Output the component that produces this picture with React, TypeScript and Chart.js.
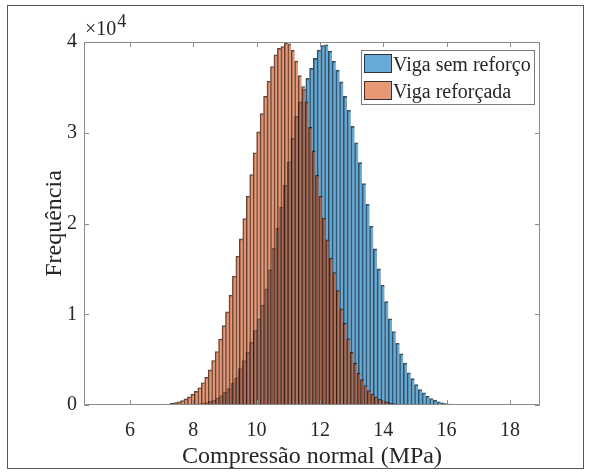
import React, { useEffect, useRef } from 'react';
import { Chart, registerables } from 'chart.js';

Chart.register(...registerables);

// ---------- data ----------
const X_MIN = 4.55;
const X_MAX = 18.95;
const X_TICKS = [6, 8, 10, 12, 14, 16, 18];
const Y_TICKS = [0, 10000, 20000, 30000, 40000];
const Y_MAX = 40000;
const Y_EXPONENT = '4';

const X_TITLE = 'Compressão normal (MPa)';
const Y_TITLE = 'Frequência';

const BLUE_LABEL = 'Viga sem reforço';
const BLUE_BIN_START = 7.884;
const BLUE_BIN_WIDTH = 0.1184;
const BLUE_COUNTS = [
  40, 70, 120, 180, 270, 400, 550, 780, 1050, 1400,
  1800, 2400, 3000, 4000, 4900, 5800, 6900, 8200, 9500, 11000,
  12800, 14900, 17300, 19500, 21800, 24200, 26800, 29400, 31800, 33400,
  34800, 36000, 37100, 38200, 39100, 39600,
  39700, 39000, 37900, 36900, 35600, 34000, 32500, 30700, 28900, 26700,
  24400, 22100, 19700, 17200, 15000, 13200, 11400, 9500, 8100, 6800,
  5650, 4600, 3550, 2900, 2250, 1700, 1330, 980, 720, 530,
  360, 250, 170, 110, 70, 40,
];

const ORANGE_LABEL = 'Viga reforçada';
const ORANGE_BIN_START = 7.05;
const ORANGE_BIN_WIDTH = 0.1093;
const ORANGE_COUNTS = [
  40, 100, 180, 280, 360, 500, 680, 900, 1170, 1500,
  1900, 2450, 3060, 3870, 4900, 5900, 7270, 8750, 10270, 12100,
  14200, 16400, 18300, 20550, 23000, 25400, 27800, 30100, 32100, 34000,
  35700, 37300, 38600, 39300, 39500, 39900, 39800, 39100, 37900, 36300,
  35100, 33400, 30600, 28000, 25300, 23000, 20600, 18200, 16200, 14600,
  12600, 10600, 9000, 7300, 5800, 4600, 3500, 2800, 2150, 1600,
  1200, 900, 650, 480, 350, 250, 170, 110, 70, 40,
];

// ---------- styles ----------
const FONT = '"Liberation Serif", "Times New Roman", serif';
const TEXT_COLOR = '#262626';
const AXIS_COLOR = '#8a8a8a';
const BLUE_FILL = 'rgba(0,114,189,0.6)';
const ORANGE_FILL = 'rgba(217,83,25,0.6)';
const EDGE = 'rgba(15,15,15,0.75)';

function toPoints(start: number, width: number, counts: number[]) {
  return counts.map((c, i) => ({ x: start + (i + 0.5) * width, y: c }));
}

const decorPlugin = {
  id: 'matlabDecor',
  afterDraw(chart: any) {
    const { ctx, chartArea } = chart;
    const xs = chart.scales.x;
    const ys = chart.scales.y;
    const L = Math.round(chartArea.left) + 0.5;
    const R = Math.round(chartArea.right) - 0.5;
    const T = Math.round(chartArea.top) + 0.5;
    const B = Math.round(chartArea.bottom) - 0.5;
    const tick = 4.5;
    ctx.save();
    ctx.strokeStyle = AXIS_COLOR;
    ctx.lineWidth = 1;
    ctx.strokeRect(L, T, R - L, B - T);
    ctx.beginPath();
    X_TICKS.forEach((v) => {
      const px = Math.round(xs.getPixelForValue(v)) + 0.5;
      ctx.moveTo(px, B);
      ctx.lineTo(px, B - tick);
      ctx.moveTo(px, T);
      ctx.lineTo(px, T + tick);
    });
    Y_TICKS.forEach((v) => {
      const py = Math.round(ys.getPixelForValue(v)) + 0.5;
      ctx.moveTo(L, py);
      ctx.lineTo(L + tick, py);
      ctx.moveTo(R, py);
      ctx.lineTo(R - tick, py);
    });
    ctx.stroke();

    // exponent label
    ctx.fillStyle = TEXT_COLOR;
    ctx.textBaseline = 'alphabetic';
    ctx.textAlign = 'left';
    ctx.font = `20px ${FONT}`;
    const base = '\u00d710';
    ctx.fillText(base, chartArea.left + 1, 35);
    const w = ctx.measureText(base).width;
    ctx.font = `18px ${FONT}`;
    ctx.fillText(Y_EXPONENT, chartArea.left + 1 + w + 1, 27);

    // legend
    const lx = 361.5, ly = 50.5, lw = 173, lh = 54;
    ctx.fillStyle = '#ffffff';
    ctx.fillRect(lx, ly, lw, lh);
    ctx.strokeStyle = '#7a7a7a';
    ctx.strokeRect(lx, ly, lw, lh);
    const items = [
      { label: BLUE_LABEL, fill: BLUE_FILL },
      { label: ORANGE_LABEL, fill: ORANGE_FILL },
    ];
    items.forEach((it, i) => {
      const sy = 54.5 + i * 27;
      ctx.fillStyle = it.fill;
      ctx.fillRect(364.5, sy, 27, 18);
      ctx.strokeStyle = '#333333';
      ctx.strokeRect(364.5, sy, 27, 18);
      ctx.fillStyle = TEXT_COLOR;
      ctx.font = `20px ${FONT}`;
      ctx.fillText(it.label, 393, 71 + i * 26.5);
    });
    ctx.restore();
  },
};

export default function App() {
  const ref = useRef<HTMLCanvasElement | null>(null);
  useEffect(() => {
    if (!ref.current) return;
    const barCommon = {
      barPercentage: 1,
      categoryPercentage: 1,
      grouped: false,
      borderColor: EDGE,
      borderWidth: { left: 1, top: 1, right: 0, bottom: 0 },
      borderSkipped: false,
    };
    const chart = new Chart(ref.current, {
      type: 'bar',
      data: {
        datasets: [
          {
            ...barCommon,
            label: BLUE_LABEL,
            data: toPoints(BLUE_BIN_START, BLUE_BIN_WIDTH, BLUE_COUNTS),
            backgroundColor: BLUE_FILL,
            xAxisID: 'x',
            order: 2,
          } as any,
          {
            ...barCommon,
            label: ORANGE_LABEL,
            data: toPoints(ORANGE_BIN_START, ORANGE_BIN_WIDTH, ORANGE_COUNTS),
            backgroundColor: ORANGE_FILL,
            xAxisID: 'x2',
            order: 1,
          } as any,
        ],
      },
      options: {
        animation: false,
        responsive: false,
        maintainAspectRatio: false,
        layout: { padding: { left: 0, top: 42, right: 50, bottom: 0 } },
        plugins: { legend: { display: false }, tooltip: { enabled: false } },
        scales: {
          x: {
            type: 'linear',
            min: X_MIN,
            max: X_MAX,
            offset: false,
            grid: { display: false, drawTicks: false },
            border: { display: false },
            afterBuildTicks: (s: any) => {
              s.ticks = X_TICKS.map((v) => ({ value: v }));
            },
            afterFit: (s: any) => {
              s.height = 68;
            },
            ticks: {
              autoSkip: false,
              maxRotation: 0,
              padding: 14,
              color: TEXT_COLOR,
              font: { family: FONT, size: 20 },
              callback: (v: any) => String(v),
            },
            title: {
              display: true,
              text: X_TITLE,
              color: TEXT_COLOR,
              font: { family: FONT, size: 24 },
              padding: { top: 0, bottom: 1.8 },
            },
          },
          x2: {
            type: 'linear',
            min: X_MIN,
            max: X_MAX,
            offset: false,
            display: false,
          },
          y: {
            min: 0,
            max: Y_MAX,
            grid: { display: false, drawTicks: false },
            border: { display: false },
            afterBuildTicks: (s: any) => {
              s.ticks = Y_TICKS.map((v) => ({ value: v }));
            },
            afterFit: (s: any) => {
              s.width = 84;
            },
            ticks: {
              padding: 7,
              color: TEXT_COLOR,
              font: { family: FONT, size: 20 },
              callback: (v: any) => String(Number(v) / 10000),
            },
            title: {
              display: true,
              text: Y_TITLE,
              color: TEXT_COLOR,
              font: { family: FONT, size: 24 },
              padding: { top: 40, bottom: 0 },
            },
          },
        },
      } as any,
      plugins: [decorPlugin],
    });
    return () => chart.destroy();
  }, []);

  return (
    <div style={{ position: 'absolute', left: 0, top: 0, width: 590, height: 473, background: '#fff' }}>
      <canvas ref={ref} width={590} height={473} style={{ display: 'block', width: 590, height: 473 }} />
      <div
        style={{
          position: 'absolute',
          left: 7,
          top: 5,
          width: 577,
          height: 464,
          boxSizing: 'border-box',
          border: '1px solid #555',
          pointerEvents: 'none',
        }}
      />
    </div>
  );
}
